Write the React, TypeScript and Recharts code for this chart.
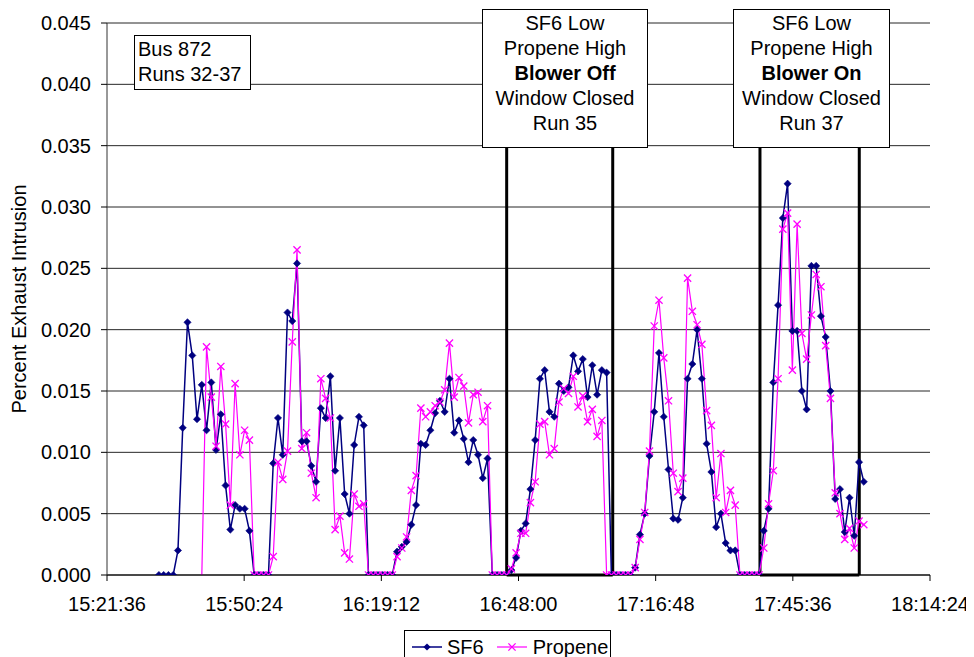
import React from 'react';
import { LineChart, Line, XAxis, YAxis, CartesianGrid, ReferenceLine } from 'recharts';

// one sample per minute, first sample at 15:32:30
const START_TIME = '15:32:30';
const STEP_SECONDS = 60;

const sf6 = [
  0, 0, 0, 0, 0.0020, 0.0120, 0.0206, 0.0179, 0.0127, 0.0155,
  0.0118, 0.0157, 0.0102, 0.0131, 0.0073, 0.0037, 0.0057, 0.0054, 0.0054, 0.0036,
  0, 0, 0, 0, 0.0091, 0.0128, 0.0098, 0.0214, 0.0207, 0.0254,
  0.0109, 0.0109, 0.0089, 0.0076, 0.0136, 0.0128, 0.0162, 0.0085, 0.0128, 0.0066,
  0.0050, 0.0106, 0.0129, 0.0122, 0, 0, 0, 0, 0, 0,
  0.0019, 0.0023, 0.0027, 0.0041, 0.0057, 0.0107, 0.0106, 0.0118, 0.0132, 0.0142,
  0.0133, 0.0160, 0.0116, 0.0126, 0.0111, 0.0092, 0.0110, 0.0098, 0.0079, 0.0095,
  0, 0, 0, 0, 0.0004, 0.0014, 0.0036, 0.0042, 0.0070, 0.0110,
  0.0160, 0.0167, 0.0133, 0.0129, 0.0156, 0.0150, 0.0153, 0.0179, 0.0166, 0.0176,
  0.0145, 0.0171, 0.0147, 0.0167, 0.0165, 0, 0, 0, 0, 0,
  0.0006, 0.0033, 0.0050, 0.0097, 0.0133, 0.0181, 0.0129, 0.0086, 0.0046, 0.0045,
  0.0063, 0.0160, 0.0172, 0.0200, 0.0160, 0.0107, 0.0084, 0.0039, 0.0050, 0.0026,
  0.0020, 0.0020, 0, 0, 0, 0, 0, 0.0036, 0.0054, 0.0157,
  0.0220, 0.0291, 0.0319, 0.0199, 0.0199, 0.0150, 0.0135, 0.0252, 0.0252, 0.0211,
  0.0194, 0.0150, 0.0062, 0.0070, 0.0035, 0.0063, 0.0032, 0.0092, 0.0076,
];

const propene = [
  -0.0002, -0.0002, -0.0002, -0.0002, -0.0002, -0.0002, -0.0002, -0.0002, -0.0002, -0.0002,
  0.0186, 0.0145, 0.0105, 0.0170, 0.0123, 0.0057, 0.0156, 0.0098, 0.0118, 0.0110,
  0, 0, 0, 0, 0.0015, 0.0092, 0.0078, 0.0101, 0.0190, 0.0265,
  0.0103, 0.0116, 0.0083, 0.0063, 0.0160, 0.0144, 0.0128, 0.0037, 0.0048, 0.0018,
  0.0013, 0.0066, 0.0056, 0.0058, 0, 0, 0, 0, 0, 0,
  0.0015, 0.0022, 0.0031, 0.0069, 0.0081, 0.0136, 0.0129, 0.0133, 0.0138, 0.0141,
  0.0151, 0.0189, 0.0145, 0.0161, 0.0154, 0.0124, 0.0147, 0.0149, 0.0125, 0.0138,
  0, 0, 0, 0, 0.0005, 0.0018, 0.0034, 0.0034, 0.0059, 0.0076,
  0.0123, 0.0125, 0.0098, 0.0103, 0.0141, 0.0152, 0.0148, 0.0162, 0.0137, 0.0146,
  0.0125, 0.0135, 0.0113, 0.0126, 0, 0, 0, 0, 0, 0,
  0.0006, 0.0029, 0.0051, 0.0101, 0.0203, 0.0224, 0.0177, 0.0142, 0.0083, 0.0068,
  0.0079, 0.0242, 0.0215, 0.0204, 0.0188, 0.0134, 0.0122, 0.0063, 0.0099, 0.0051,
  0.0069, 0.0057, 0, 0, 0, 0, 0, 0.0022, 0.0058, 0.0085,
  0.0160, 0.0282, 0.0295, 0.0167, 0.0286, 0.0197, 0.0176, 0.0212, 0.0245, 0.0235,
  0.0187, 0.0144, 0.0067, 0.0050, 0.0029, 0.0038, 0.0022, 0.0044, 0.0041,
];

const xTickLabels = ['15:21:36', '15:50:24', '16:19:12', '16:48:00', '17:16:48', '17:45:36', '18:14:24'];
const yTicks = [0, 0.005, 0.01, 0.015, 0.02, 0.025, 0.03, 0.035, 0.04, 0.045];

// run windows marked on the chart (start, end)
const run35 = ['16:45:31', '17:07:47'];
const run37 = ['17:38:42', '17:59:33'];

const toSec = (s: string) => {
  const [h, m, sec] = s.split(':').map(Number);
  return h * 3600 + m * 60 + sec;
};
const fmtTime = (v: number) => {
  const h = Math.floor(v / 3600);
  const m = Math.floor((v % 3600) / 60);
  const s = Math.round(v % 60);
  return `${h}:${String(m).padStart(2, '0')}:${String(s).padStart(2, '0')}`;
};

const t0 = toSec(START_TIME);
const data = sf6.map((v, i) => ({ t: t0 + i * STEP_SECONDS, sf6: v, propene: propene[i] }));
const xTicks = xTickLabels.map(toSec);

const FONT = '"Liberation Sans", Arial, sans-serif';
const NAVY = '#000080';
const MAGENTA = '#FF00FF';

const DiamondDot = (props: any) => {
  const { cx, cy, value, index } = props;
  if (cx == null || cy == null || value == null || value < 0) return <g key={`d-${index}`} />;
  const r = 3.6;
  return <path key={`d-${index}`} d={`M${cx},${cy - r}L${cx + r},${cy}L${cx},${cy + r}L${cx - r},${cy}Z`} fill={NAVY} stroke={NAVY} strokeWidth={0.6} />;
};

const CrossDot = (props: any) => {
  const { cx, cy, value, index } = props;
  if (cx == null || cy == null || value == null || value < 0) return <g key={`x-${index}`} />;
  const r = 3.6;
  return (
    <path key={`x-${index}`} d={`M${cx - r},${cy - r}L${cx + r},${cy + r}M${cx - r},${cy + r}L${cx + r},${cy - r}`} stroke={MAGENTA} strokeWidth={1.3} fill="none" />
  );
};

const RunBox = ({ range }: { range: string[] }) => {
  const a = toSec(range[0]);
  const b = toSec(range[1]);
  const top = 0.036;
  return (
    <>
      <ReferenceLine segment={[{ x: a, y: 0 }, { x: a, y: top }]} stroke="#000" strokeWidth={3} />
      <ReferenceLine segment={[{ x: b, y: 0 }, { x: b, y: top }]} stroke="#000" strokeWidth={3} />
      <ReferenceLine segment={[{ x: a, y: 0 }, { x: b, y: 0 }]} stroke="#000" strokeWidth={3} />
    </>
  );
};

const noteBox: React.CSSProperties = {
  position: 'absolute',
  background: '#fff',
  border: '1px solid #000',
  fontSize: 20,
  lineHeight: '25px',
  textAlign: 'center',
  boxSizing: 'border-box',
  paddingTop: 1,
};

export default function App() {
  return (
    <div style={{ position: 'relative', width: 966, height: 649, overflow: 'hidden', fontFamily: FONT, background: '#fff' }}>
      <LineChart width={966} height={649} data={data} margin={{ top: 15, right: 44, bottom: 0, left: 0 }}>
        <CartesianGrid horizontal vertical={false} stroke="#000" strokeOpacity={0.85} />
        <XAxis
          dataKey="t"
          type="number"
          domain={[xTicks[0], xTicks[xTicks.length - 1]]}
          ticks={xTicks}
          interval={0}
          tickFormatter={fmtTime}
          height={82}
          tickSize={6}
          tickMargin={16}
          axisLine={{ stroke: '#000' }}
          tickLine={{ stroke: '#000' }}
          tick={{ fill: '#000', fontSize: 20, fontFamily: FONT }}
        />
        <YAxis
          type="number"
          domain={[0, 0.045]}
          allowDataOverflow
          ticks={yTicks}
          interval={0}
          tickFormatter={(v: number) => v.toFixed(3)}
          width={99}
          tickSize={6}
          tickMargin={10}
          axisLine={{ stroke: '#333' }}
          tickLine={{ stroke: '#000' }}
          tick={{ fill: '#000', fontSize: 20, fontFamily: FONT }}
        />
        {RunBox({ range: run35 })}
        {RunBox({ range: run37 })}
        <Line dataKey="sf6" stroke={NAVY} strokeWidth={1.5} dot={DiamondDot} activeDot={false} isAnimationActive={false} />
        <Line dataKey="propene" stroke={MAGENTA} strokeWidth={1.2} dot={CrossDot} activeDot={false} isAnimationActive={false} />
      </LineChart>

      <div
        style={{
          position: 'absolute', left: 11, top: 291, fontSize: 20, whiteSpace: 'nowrap',
          transform: 'translate(-50%, -50%) rotate(-90deg)',
        }}
      >
        Percent Exhaust Intrusion
      </div>

      <div style={{ ...noteBox, left: 126, top: 27, width: 117, height: 55, textAlign: 'left', paddingLeft: 3, paddingTop: 1 }}>
        Bus 872<br />Runs 32-37
      </div>

      <div style={{ ...noteBox, left: 474, top: 1, width: 166, height: 139 }}>
        SF6 Low<br />Propene High<br /><b>Blower Off</b><br />Window Closed<br />Run 35
      </div>
      <div style={{ ...noteBox, left: 725, top: 1, width: 157, height: 139 }}>
        SF6 Low<br />Propene High<br /><b>Blower On</b><br />Window Closed<br />Run 37
      </div>

      <div
        style={{
          position: 'absolute', left: 396, top: 622, width: 207, height: 34, border: '1px solid #000',
          boxSizing: 'border-box', display: 'flex', alignItems: 'center', fontSize: 20, background: '#fff',
        }}
      >
        <svg width={32} height={20} style={{ marginLeft: 6 }}>
          <line x1={1} y1={10} x2={31} y2={10} stroke={NAVY} strokeWidth={1.5} />
          <path d="M16,6.4L19.6,10L16,13.6L12.4,10Z" fill={NAVY} />
        </svg>
        <span style={{ marginLeft: 4 }}>SF6</span>
        <svg width={32} height={20} style={{ marginLeft: 12 }}>
          <line x1={1} y1={10} x2={31} y2={10} stroke={MAGENTA} strokeWidth={1.2} />
          <path d="M12.4,6.4L19.6,13.6M12.4,13.6L19.6,6.4" stroke={MAGENTA} strokeWidth={1.3} />
        </svg>
        <span style={{ marginLeft: 5 }}>Propene</span>
      </div>
    </div>
  );
}
